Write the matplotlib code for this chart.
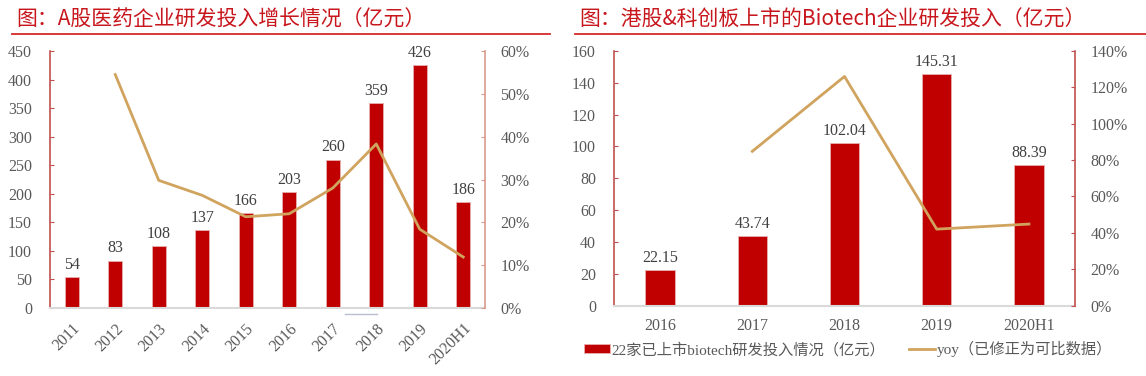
import matplotlib
matplotlib.use("Agg")
import matplotlib.pyplot as plt
from matplotlib.lines import Line2D
import numpy as np

# ---- data ----
years_a = ["2011", "2012", "2013", "2014", "2015", "2016", "2017", "2018", "2019", "2020H1"]
rd_a = [54, 83, 108, 137, 166, 203, 260, 359, 426, 186]
yoy_a = [None, 54.5, 29.8, 26.3, 21.3, 22.0, 28.0, 38.3, 18.4, 11.9]

years_b = ["2016", "2017", "2018", "2019", "2020H1"]
rd_b = [22.15, 43.74, 102.04, 145.31, 88.39]
yoy_b = [None, 84.8, 126.0, 42.0, 44.8]

title_a = "图：A股医药企业研发投入增长情况（亿元）"
title_b = "图：港股&科创板上市的Biotech企业研发投入（亿元）"
legend_bar = "22家已上市biotech研发投入情况（亿元）"
legend_line = "yoy（已修正为可比数据）"

BAR = "#C00000"
LINE = "#D0A35E"
SPINE = "#C0504D"
SPINE_L = "#D9998C"
TXT = "#595959"
TITLE = "#C8161D"
SERIF = ["Liberation Serif", "Noto Sans CJK SC"]
CJK = ["Noto Sans CJK SC", "DejaVu Sans"]

W, H = 1146, 376
fig = plt.figure(figsize=(W / 100, H / 100), dpi=100)


def fx(x):
    return x / W


def fy(y):
    return 1 - y / H


def make_panel(rect, cats, bars, line, ymax, ystep, rmax, rstep, fmt, rot, right_spine_color):
    ax = fig.add_axes(rect)
    x = np.arange(len(cats))
    b = ax.bar(x, bars, width=0.32, color=BAR, edgecolor="#E8B0B0", linewidth=0.6, zorder=2)
    for xi, v in zip(x, bars):
        ax.annotate(fmt(v), (xi, v), xytext=(0, 3), textcoords="offset points",
                    ha="center", va="bottom", fontsize=11.5, color="#404040",
                    family=SERIF, zorder=5)
    ax.set_xlim(-0.5, len(cats) - 0.5)
    ax.set_ylim(0, ymax)
    ax.set_yticks(np.arange(0, ymax + 0.1, ystep))
    ax.set_xticks(x)
    if rot:
        ax.set_xticklabels(cats, rotation=45, ha="right", rotation_mode="anchor",
                           family=SERIF, fontsize=11.5, color=TXT)
        ax.tick_params(axis="x", pad=9)
    else:
        ax.set_xticklabels(cats, family=SERIF, fontsize=11.5, color=TXT)
        ax.tick_params(axis="x", pad=9)
    ax.tick_params(axis="x", length=0)
    ax.tick_params(axis="y", direction="in", length=3, color=SPINE, labelsize=11.5,
                   labelcolor=TXT, pad=13)
    for lab in ax.get_yticklabels():
        lab.set_family(SERIF)
    ax.spines["top"].set_visible(False)
    ax.spines["right"].set_visible(False)
    ax.spines["left"].set_color(SPINE)
    ax.spines["left"].set_linewidth(1.2)
    ax.spines["bottom"].set_color("#D9D9D9")
    ax.spines["bottom"].set_linewidth(1.5)

    ax2 = ax.twinx()
    ax2.set_ylim(0, rmax)
    ax2.set_yticks(np.arange(0, rmax + 0.1, rstep))
    ax2.set_yticklabels([f"{int(t)}%" for t in np.arange(0, rmax + 0.1, rstep)],
                        family=SERIF, fontsize=11.5, color=TXT)
    ax2.tick_params(axis="y", direction="in", length=3, color=right_spine_color, pad=11)
    for s in ["top", "left", "bottom"]:
        ax2.spines[s].set_visible(False)
    ax2.spines["right"].set_color(right_spine_color)
    ax2.spines["right"].set_linewidth(1.2)
    lx = [xi for xi, v in zip(x, line) if v is not None]
    ly = [v for v in line if v is not None]
    ln, = ax2.plot(lx, ly, color=LINE, linewidth=2.0, zorder=3)
    return ax, ax2, b, ln


# ---- left panel ----
axA, axA2, _, _ = make_panel([fx(50), fy(308), fx(485 - 50), (308 - 51) / H],
                             years_a, rd_a, yoy_a, 450, 50, 60, 10,
                             lambda v: f"{v:d}", True, SPINE_L)

# ---- right panel ----
axB, axB2, barB, lnB = make_panel([fx(614), fy(305.5), fx(1075 - 614), (305.5 - 51) / H],
                                  years_b, rd_b, yoy_b, 160, 20, 140, 20,
                                  lambda v: f"{v:.2f}", False, SPINE)

# ---- titles and rules ----
fig.text(fx(16), fy(20), title_a, family=CJK, fontsize=15, weight="medium", color=TITLE,
         ha="left", va="center")
fig.text(fx(579), fy(20), title_b, family=CJK, fontsize=15, weight="medium", color=TITLE,
         ha="left", va="center")
fig.add_artist(Line2D([fx(12), fx(550)], [fy(34.3), fy(34.3)], color="#D42A2A", linewidth=1.3))
fig.add_artist(Line2D([fx(575), fx(1146)], [fy(34.3), fy(34.3)], color="#D42A2A", linewidth=1.3))

# small leftover mark under the 2018 axis position
fig.add_artist(Line2D([fx(345), fx(377)], [fy(314), fy(314)], color="#B8C0D0", linewidth=1.0))

# ---- legend ----
leg = fig.legend([barB, lnB], [legend_bar, legend_line], loc="center",
                 bbox_to_anchor=(fx(848), fy(349)), ncol=2, frameon=False,
                 prop={"family": SERIF, "size": 11}, handlelength=1.7, handleheight=0.5,
                 handletextpad=0.1, columnspacing=1.6, borderaxespad=0)
for t in leg.get_texts():
    t.set_color(TXT)

fig.savefig("out.png", dpi=100)
